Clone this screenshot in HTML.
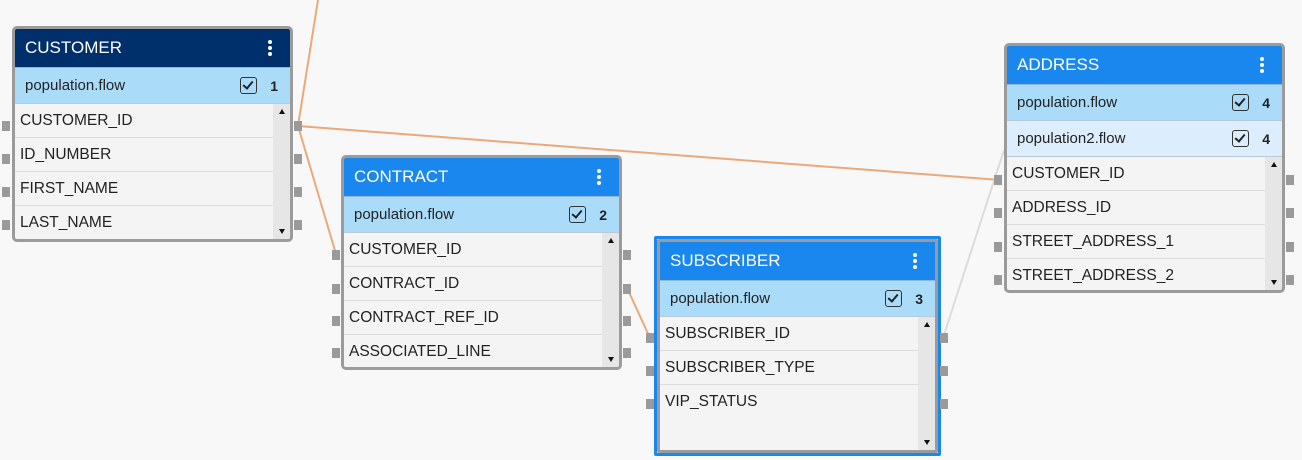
<!DOCTYPE html>
<html><head><meta charset="utf-8"><style>
body{margin:0;width:1302px;height:460px;background:#f8f8f8;position:relative;overflow:hidden;font-family:"Liberation Sans",Arial,sans-serif}
.t{position:absolute;box-sizing:border-box;border:3px solid #9b9b9b;border-radius:5px;background:#f4f4f4;display:flex;flex-direction:column;overflow:hidden}
.h{height:38px;flex:none;color:#fff;font-size:17px;display:flex;align-items:center;padding-left:10px;position:relative;border-bottom:1px solid #8fb6d6}
.h .d{position:absolute;right:18px;top:11px;width:4px}
.h .d i{display:block;width:4px;height:4px;border-radius:2px;background:#fff;margin-bottom:2px}
.f{height:35px;flex:none;background:#aadcfa;border-bottom:1px solid #b9c9d6;font-size:15px;color:#222;display:flex;align-items:center;padding-left:10px;position:relative}
.f.l{background:#dcedfd}
.f .c{position:absolute;right:33px;top:9px;width:17px;height:17px;border:1.5px solid #333;border-radius:3px;box-sizing:border-box}
.f .c:after{content:"";position:absolute;left:4px;top:1px;width:4px;height:8px;border:solid #222;border-width:0 2px 2px 0;transform:rotate(40deg)}
.f .n{position:absolute;right:12px;top:10px;font-weight:bold;font-size:14px}
.b{flex:1;position:relative;overflow:hidden}
.r{height:33px;border-bottom:1px solid #dcdcdc;margin-right:17px;font-size:15.5px;color:#222;line-height:33px;padding-left:5px}
.s{position:absolute;right:0;top:0;bottom:0;width:17px;background:#e6e6e6}
.s .u{position:absolute;top:5px;left:6px;width:0;height:0;border-left:3px solid transparent;border-right:3px solid transparent;border-bottom:5px solid #111}
.s .w{position:absolute;bottom:5px;left:6px;width:0;height:0;border-left:3px solid transparent;border-right:3px solid transparent;border-top:5px solid #111}
.p{position:absolute;width:8px;height:10px;background:#9a9a9a}
</style></head><body>
<svg width="1302" height="460" style="position:absolute;left:0;top:0">
<g stroke="#eaa978" stroke-width="2" fill="none">
<line x1="318" y1="0" x2="298" y2="126"/>
<line x1="298" y1="126" x2="336" y2="254"/>
<line x1="298" y1="126" x2="1000" y2="180"/>
<line x1="628" y1="290" x2="650" y2="338"/>
</g>
<line x1="943" y1="338" x2="1004" y2="150" stroke="#dcdcdc" stroke-width="2"/>
</svg>

<div class="t" style="left:12px;top:26px;width:281px;height:216px">
<div class="h" style="background:#00306b">CUSTOMER<span class="d"><i></i><i></i><i></i></span></div>
<div class="f">population.flow<span class="c"></span><span class="n">1</span></div>
<div class="b"><div class="r">CUSTOMER_ID</div><div class="r">ID_NUMBER</div><div class="r">FIRST_NAME</div><div class="r">LAST_NAME</div><div class="s"><span class="u"></span><span class="w"></span></div></div>
</div>

<div class="t" style="left:341px;top:155px;width:281px;height:215px">
<div class="h" style="background:#1a87ee">CONTRACT<span class="d"><i></i><i></i><i></i></span></div>
<div class="f">population.flow<span class="c"></span><span class="n">2</span></div>
<div class="b"><div class="r">CUSTOMER_ID</div><div class="r">CONTRACT_ID</div><div class="r">CONTRACT_REF_ID</div><div class="r">ASSOCIATED_LINE</div><div class="s"><span class="u"></span><span class="w"></span></div></div>
</div>

<div style="position:absolute;left:654px;top:236px;width:287px;height:220px;box-sizing:border-box;border:3px solid #1a87ee;border-radius:2px"></div>
<div class="t" style="left:657px;top:239px;width:281px;height:214px;border-radius:2px">
<div class="h" style="background:#1a87ee">SUBSCRIBER<span class="d"><i></i><i></i><i></i></span></div>
<div class="f">population.flow<span class="c"></span><span class="n">3</span></div>
<div class="b"><div class="r">SUBSCRIBER_ID</div><div class="r">SUBSCRIBER_TYPE</div><div class="r" style="border:none">VIP_STATUS</div><div class="s"><span class="u"></span><span class="w"></span></div></div>
</div>

<div class="t" style="left:1004px;top:43px;width:281px;height:250px">
<div class="h" style="background:#1a87ee">ADDRESS<span class="d"><i></i><i></i><i></i></span></div>
<div class="f">population.flow<span class="c"></span><span class="n">4</span></div>
<div class="f l">population2.flow<span class="c"></span><span class="n">4</span></div>
<div class="b"><div class="r">CUSTOMER_ID</div><div class="r">ADDRESS_ID</div><div class="r">STREET_ADDRESS_1</div><div class="r">STREET_ADDRESS_2</div><div class="s"><span class="u"></span><span class="w"></span></div></div>
</div>

<div class="p" style="left:2px;top:121px"></div><div class="p" style="left:2px;top:154px"></div><div class="p" style="left:2px;top:187px"></div><div class="p" style="left:2px;top:220px"></div>
<div class="p" style="left:294px;top:121px"></div><div class="p" style="left:294px;top:154px"></div><div class="p" style="left:294px;top:187px"></div><div class="p" style="left:294px;top:220px"></div>
<div class="p" style="left:332px;top:250px"></div><div class="p" style="left:332px;top:284px"></div><div class="p" style="left:332px;top:316px"></div><div class="p" style="left:332px;top:348px"></div>
<div class="p" style="left:623px;top:250px"></div><div class="p" style="left:623px;top:284px"></div><div class="p" style="left:623px;top:316px"></div><div class="p" style="left:623px;top:348px"></div>
<div class="p" style="left:646px;top:333px"></div><div class="p" style="left:646px;top:366px"></div><div class="p" style="left:646px;top:399px"></div>
<div class="p" style="left:940px;top:333px"></div><div class="p" style="left:940px;top:366px"></div><div class="p" style="left:940px;top:399px"></div>
<div class="p" style="left:994px;top:175px"></div><div class="p" style="left:994px;top:208px"></div><div class="p" style="left:994px;top:242px"></div><div class="p" style="left:994px;top:275px"></div>
<div class="p" style="left:1286px;top:175px"></div><div class="p" style="left:1286px;top:208px"></div><div class="p" style="left:1286px;top:242px"></div><div class="p" style="left:1286px;top:275px"></div>
</body></html>
